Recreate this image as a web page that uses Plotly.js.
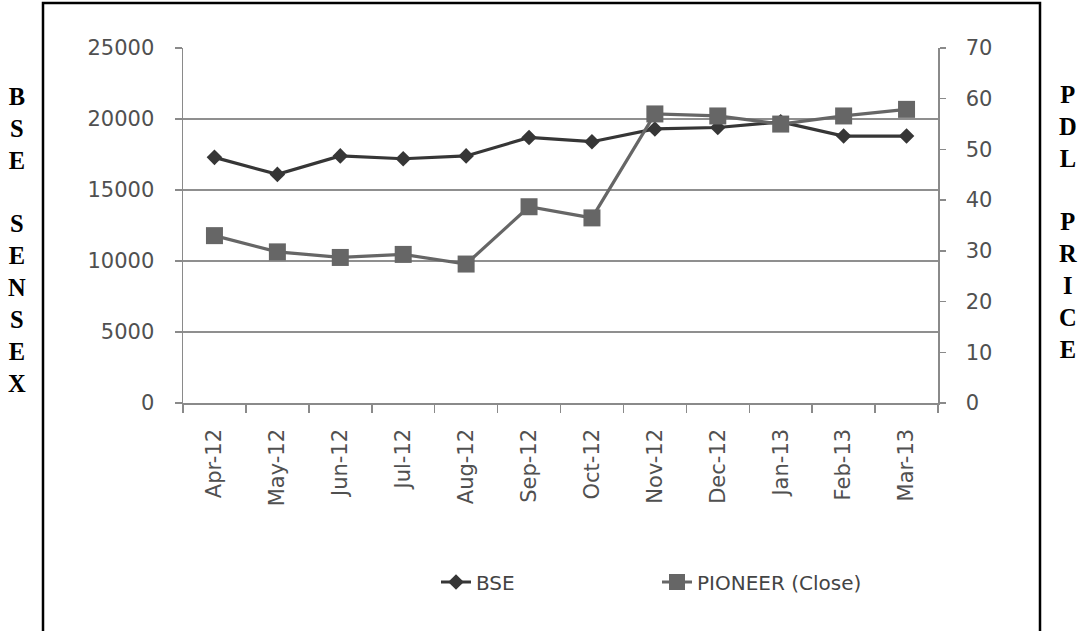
<!DOCTYPE html>
<html>
<head>
<meta charset="utf-8">
<script src="https://cdn.plot.ly/plotly-3.0.1.min.js"></script>
<style>
html,body{margin:0;padding:0;background:#fff;}
#chart{width:1080px;height:631px;}
</style>
</head>
<body>
<div id="chart"></div>
<script>
// ---- data ----
const months = ["Apr-12","May-12","Jun-12","Jul-12","Aug-12","Sep-12","Oct-12","Nov-12","Dec-12","Jan-13","Feb-13","Mar-13"];
const bseValues = [17300, 16100, 17400, 17200, 17400, 18700, 18400, 19300, 19400, 19800, 18800, 18800];
const pioneerValues = [33.0, 29.8, 28.7, 29.3, 27.4, 38.7, 36.5, 57.0, 56.6, 55.0, 56.6, 57.9];
const leftTicks = [0, 5000, 10000, 15000, 20000, 25000];
const rightTicks = [0, 10, 20, 30, 40, 50, 60, 70];
const seriesNames = ["BSE", "PIONEER (Close)"];
const leftLabel = "B<br>S<br>E<br><br>S<br>E<br>N<br>S<br>E<br>X";
const rightLabel = "P<br>D<br>L<br><br>P<br>R<br>I<br>C<br>E";

// ---- geometry helpers (pixel -> paper) ----
const W = 1080, H = 631;
const L = 183, R = 938, T = 48, B = 403;
const px = x => (x - L) / (R - L);
const py = y => (B - y) / (B - T);

const tickFont = {family: "DejaVu Sans", size: 21, color: "#505050"};
const axisGray = "#8a8a8a";

const traces = [
  {
    x: months, y: bseValues, name: seriesNames[0], type: "scatter", mode: "lines+markers",
    line: {color: "#363636", width: 3.2},
    marker: {symbol: "diamond", size: 12, color: "#363636"},
    xaxis: "x", yaxis: "y"
  },
  {
    x: months, y: pioneerValues, name: seriesNames[1], type: "scatter", mode: "lines+markers",
    line: {color: "#666666", width: 3.2},
    marker: {symbol: "square", size: 17, color: "#666666"},
    xaxis: "x", yaxis: "y2"
  }
];

const layout = {
  width: W, height: H,
  margin: {l: L, r: W - R, t: T, b: H - B, pad: 0},
  paper_bgcolor: "#ffffff", plot_bgcolor: "rgba(0,0,0,0)",
  showlegend: true,
  xaxis: {
    type: "category", range: [-0.5, months.length - 0.5],
    tickson: "boundaries", ticks: "outside", ticklen: 8, tickcolor: axisGray, tickwidth: 1.5,
    showline: true, linecolor: axisGray, linewidth: 1.5,
    showgrid: false, zeroline: false,
    tickangle: -90, tickfont: tickFont, ticklabelstandoff: 16,
    fixedrange: true
  },
  yaxis: {
    range: [0, 25000], tickvals: leftTicks, ticktext: leftTicks.map(String),
    ticks: "outside", ticklen: 7, tickcolor: axisGray, tickwidth: 1.5,
    showline: true, linecolor: axisGray, linewidth: 1.5,
    showgrid: true, gridcolor: "#8f8f8f", gridwidth: 1.5, zeroline: false,
    tickfont: tickFont, ticklabelstandoff: 16,
    fixedrange: true
  },
  yaxis2: {
    range: [0, 70], tickvals: rightTicks, ticktext: rightTicks.map(String),
    overlaying: "y", side: "right", anchor: "x",
    ticks: "outside", ticklen: 6, tickcolor: axisGray, tickwidth: 1.5,
    showline: true, linecolor: axisGray, linewidth: 1.5,
    showgrid: false, zeroline: false,
    tickfont: tickFont, ticklabelstandoff: 16,
    fixedrange: true
  },
  yaxis3: {
    range: [0, 70], tickvals: rightTicks, overlaying: "y", side: "right", anchor: "x",
    ticks: "inside", ticklen: 6, tickcolor: axisGray, tickwidth: 1.5,
    showticklabels: false, showline: false, showgrid: false, zeroline: false,
    fixedrange: true
  },
  legend: {
    orientation: "h", x: px(436), xanchor: "left", y: py(582), yanchor: "middle",
    font: {family: "DejaVu Sans", size: 20, color: "#444444"},
    entrywidth: 176, entrywidthmode: "pixels",
    bgcolor: "rgba(0,0,0,0)", borderwidth: 0
  },
  shapes: [
    {type: "path", xref: "paper", yref: "paper",
     path: `M ${px(43)} ${py(660)} L ${px(43)} ${py(3)} L ${px(1040)} ${py(3)} L ${px(1040)} ${py(660)}`,
     line: {color: "#000000", width: 2.5}, fillcolor: "rgba(0,0,0,0)"}
  ],
  annotations: [
    {xref: "paper", yref: "paper", x: px(17), y: py(240), xanchor: "center", yanchor: "middle",
     text: leftLabel, showarrow: false, align: "center",
     font: {family: "Liberation Serif", size: 24.5, color: "#000000", weight: "bold"}},
    {xref: "paper", yref: "paper", x: px(1068), y: py(222), xanchor: "center", yanchor: "middle",
     text: rightLabel, showarrow: false, align: "center",
     font: {family: "Liberation Serif", size: 24.5, color: "#000000", weight: "bold"}}
  ]
};

Plotly.newPlot("chart", traces, layout, {displayModeBar: false, staticPlot: true});
</script>
</body>
</html>
